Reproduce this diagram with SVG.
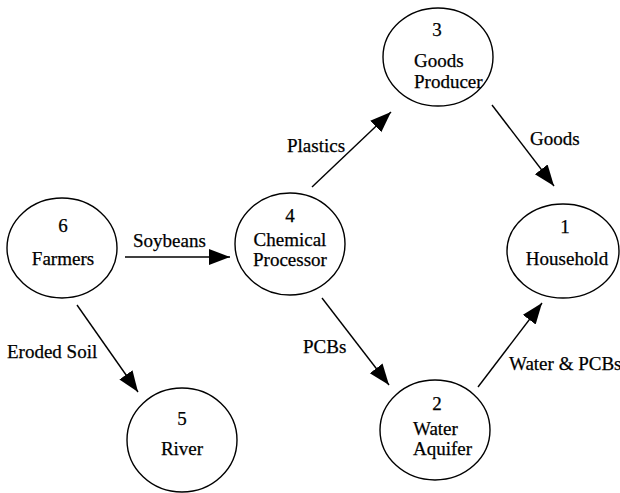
<svg xmlns="http://www.w3.org/2000/svg" width="620" height="493" viewBox="0 0 620 493">
<defs>
<style>
.node ellipse{fill:#fff;stroke:#000;stroke-width:1.4}
text{font-family:"Liberation Serif","Times New Roman",serif;font-size:19px;fill:#000;stroke:#000;stroke-width:0.25}
.c{text-anchor:middle}
#edges line{stroke:#000;stroke-width:1.4;marker-end:url(#ah)}
</style>
<marker id="ah" markerUnits="userSpaceOnUse" markerWidth="24" markerHeight="18" refX="21" refY="8" orient="auto">
<path d="M0,0 L21,8 L0,16 z" fill="#000"/>
</marker>
</defs>
<g id="edges">
<line x1="125" y1="257" x2="230" y2="257"/>
<line x1="312" y1="187" x2="391" y2="112"/>
<line x1="322" y1="298" x2="389" y2="385"/>
<line x1="492" y1="105" x2="554" y2="186"/>
<line x1="478" y1="387" x2="542" y2="303"/>
<line x1="77" y1="305" x2="138" y2="392"/>
<text x="133" y="247">Soybeans</text>
<text x="287" y="152">Plastics</text>
<text x="303" y="353">PCBs</text>
<text x="530" y="145">Goods</text>
<text x="509" y="370">Water &amp; PCBs</text>
<text x="7" y="358">Eroded Soil</text>
</g>
<g id="n3" class="node">
<ellipse cx="438" cy="57" rx="55" ry="49"/>
<text class="c" x="437" y="36">3</text>
<text x="414" y="67">Goods</text>
<text x="414" y="88">Producer</text>
</g>
<g id="n1" class="node">
<ellipse cx="563" cy="251" rx="56" ry="47"/>
<text class="c" x="565" y="233">1</text>
<text class="c" x="567" y="265">Household</text>
</g>
<g id="n6" class="node">
<ellipse cx="62" cy="248" rx="55" ry="50"/>
<text class="c" x="63" y="232">6</text>
<text class="c" x="63" y="265">Farmers</text>
</g>
<g id="n4" class="node">
<ellipse cx="290" cy="244" rx="55" ry="51"/>
<text class="c" x="290" y="222">4</text>
<text class="c" x="290" y="246">Chemical</text>
<text class="c" x="290" y="266">Processor</text>
</g>
<g id="n5" class="node">
<ellipse cx="182" cy="440" rx="55" ry="52"/>
<text class="c" x="182" y="425">5</text>
<text class="c" x="182" y="455">River</text>
</g>
<g id="n2" class="node">
<ellipse cx="435" cy="430" rx="55" ry="50"/>
<text class="c" x="437" y="410">2</text>
<text x="413" y="435">Water</text>
<text x="413" y="455">Aquifer</text>
</g>
</svg>
